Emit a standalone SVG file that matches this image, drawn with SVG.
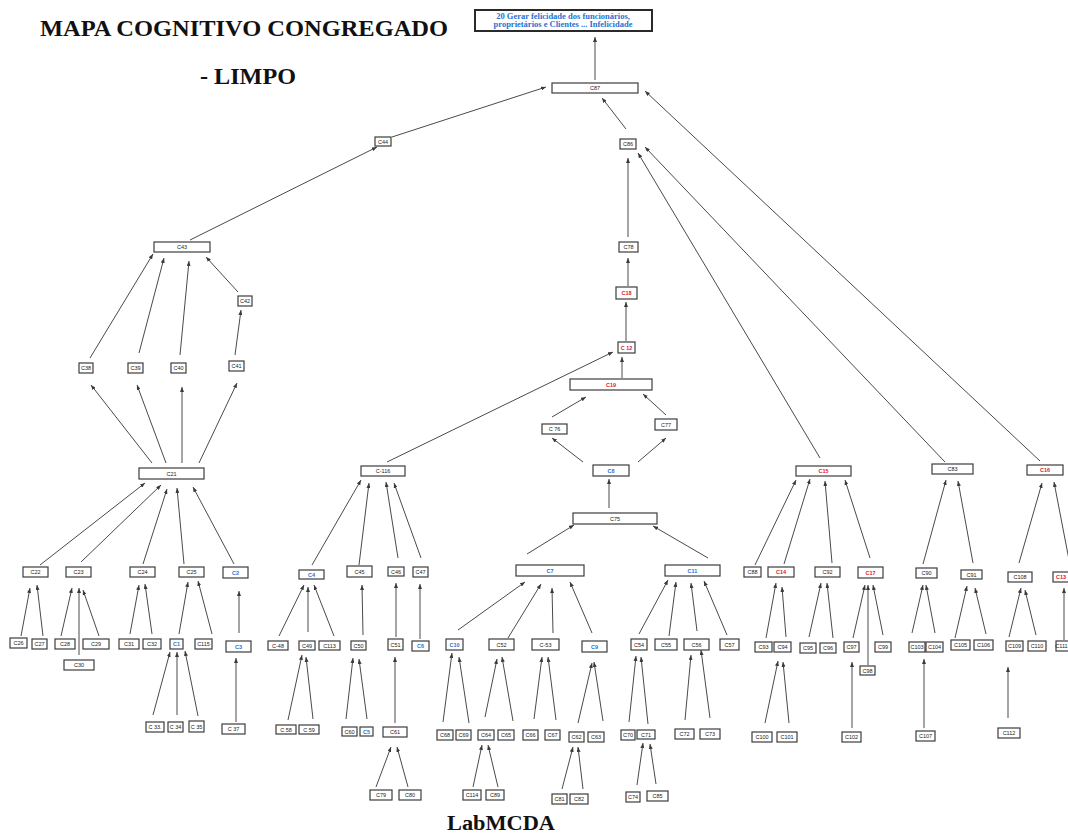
<svg xmlns="http://www.w3.org/2000/svg" width="1068" height="835" viewBox="0 0 1068 835">
<defs>
<marker id="ah" markerUnits="userSpaceOnUse" markerWidth="5" markerHeight="4" viewBox="0 0 10 8" refX="10" refY="4" orient="auto">
<path d="M0,0 L10,4 L0,8 Z" fill="#3a3a3a"/>
</marker>
</defs>
<style>
.bg{fill:#ffffff}
.h{font-family:"Liberation Serif","Times New Roman",serif;font-weight:bold;font-size:23px;fill:#111}
.foot{font-family:"Liberation Serif","Times New Roman",serif;font-weight:bold;font-size:20px;fill:#111}
.n rect{fill:#fff;stroke:#3c3c3c;stroke-width:1.2}
.n text{font-family:"Liberation Sans",Arial,sans-serif;font-size:5.5px;fill:#222;text-anchor:middle;dominant-baseline:central}
.n.b text{fill:#1f72d6;font-weight:bold}
.n.r text{fill:#e0202a;font-weight:bold}
.goal rect{fill:#fff;stroke:#2a2a2a;stroke-width:2}
.goal text{font-family:"Liberation Serif","Times New Roman",serif;font-size:8.5px;font-weight:bold;fill:#1f72d6;text-anchor:middle}
#edges line{stroke:#4a4a4a;stroke-width:1;marker-end:url(#ah)}
</style>
<rect class="bg" x="0" y="0" width="1068" height="835"/>

<text class="h" x="40" y="36" textLength="408" lengthAdjust="spacingAndGlyphs">MAPA COGNITIVO CONGREGADO</text>
<text class="h" x="200" y="84" textLength="96" lengthAdjust="spacingAndGlyphs">- LIMPO</text>
<text class="foot" x="447" y="830" textLength="108" lengthAdjust="spacingAndGlyphs">LabMCDA</text>

<g id="edges">
<line x1="595" y1="80" x2="595" y2="37"/>
<line x1="626" y1="129" x2="602" y2="98"/>
<line x1="392" y1="137" x2="546" y2="87"/>
<line x1="190" y1="240" x2="377" y2="147"/>
<line x1="1040" y1="461" x2="645" y2="91"/>
<line x1="820" y1="458" x2="638" y2="153"/>
<line x1="945" y1="462" x2="645" y2="147"/>
<line x1="628" y1="237" x2="628" y2="158"/>
<line x1="628" y1="286" x2="628" y2="258"/>
<line x1="626" y1="341" x2="626" y2="302"/>
<line x1="622" y1="378" x2="622" y2="357"/>
<line x1="387" y1="462" x2="613" y2="352"/>
<line x1="552" y1="417" x2="586" y2="397"/>
<line x1="666" y1="415" x2="643" y2="394"/>
<line x1="583" y1="462" x2="552" y2="438"/>
<line x1="638" y1="462" x2="666" y2="438"/>
<line x1="609" y1="508" x2="609" y2="479"/>
<line x1="90" y1="358" x2="153" y2="254"/>
<line x1="139" y1="353" x2="164" y2="258"/>
<line x1="180" y1="355" x2="189" y2="261"/>
<line x1="238" y1="292" x2="206" y2="257"/>
<line x1="235" y1="355" x2="241" y2="310"/>
<line x1="152" y1="463" x2="91" y2="385"/>
<line x1="166" y1="463" x2="137" y2="385"/>
<line x1="182" y1="463" x2="182" y2="387"/>
<line x1="199" y1="463" x2="237" y2="383"/>
<line x1="40" y1="565" x2="145" y2="483"/>
<line x1="81" y1="562" x2="161" y2="485"/>
<line x1="143" y1="564" x2="167" y2="489"/>
<line x1="184" y1="564" x2="177" y2="488"/>
<line x1="234" y1="564" x2="193" y2="487"/>
<line x1="21" y1="636" x2="30" y2="588"/>
<line x1="43" y1="636" x2="37" y2="585"/>
<line x1="61" y1="636" x2="72" y2="588"/>
<line x1="79" y1="655" x2="79" y2="588"/>
<line x1="99" y1="636" x2="83" y2="590"/>
<line x1="130" y1="634" x2="139" y2="585"/>
<line x1="152" y1="634" x2="145" y2="584"/>
<line x1="179" y1="634" x2="188" y2="582"/>
<line x1="212" y1="634" x2="198" y2="581"/>
<line x1="239" y1="633" x2="239" y2="591"/>
<line x1="153" y1="715" x2="170" y2="652"/>
<line x1="177" y1="715" x2="177" y2="652"/>
<line x1="198" y1="716" x2="185" y2="651"/>
<line x1="236" y1="722" x2="236" y2="658"/>
<line x1="312" y1="565" x2="361" y2="480"/>
<line x1="359" y1="565" x2="369" y2="483"/>
<line x1="398" y1="558" x2="386" y2="482"/>
<line x1="421" y1="558" x2="394" y2="483"/>
<line x1="279" y1="636" x2="304" y2="585"/>
<line x1="308" y1="632" x2="308" y2="587"/>
<line x1="334" y1="636" x2="314" y2="585"/>
<line x1="363" y1="635" x2="362" y2="585"/>
<line x1="396" y1="637" x2="396" y2="583"/>
<line x1="420" y1="639" x2="420" y2="584"/>
<line x1="288" y1="720" x2="302" y2="655"/>
<line x1="313" y1="719" x2="306" y2="657"/>
<line x1="346" y1="719" x2="353" y2="658"/>
<line x1="367" y1="719" x2="359" y2="659"/>
<line x1="395" y1="723" x2="395" y2="657"/>
<line x1="376" y1="787" x2="391" y2="747"/>
<line x1="408" y1="787" x2="397" y2="747"/>
<line x1="527" y1="554" x2="574" y2="525"/>
<line x1="708" y1="558" x2="653" y2="526"/>
<line x1="458" y1="630" x2="525" y2="582"/>
<line x1="508" y1="638" x2="541" y2="584"/>
<line x1="553" y1="633" x2="552" y2="588"/>
<line x1="592" y1="633" x2="570" y2="582"/>
<line x1="443" y1="722" x2="452" y2="653"/>
<line x1="469" y1="723" x2="459" y2="657"/>
<line x1="485" y1="717" x2="497" y2="659"/>
<line x1="513" y1="721" x2="502" y2="657"/>
<line x1="534" y1="719" x2="542" y2="657"/>
<line x1="556" y1="720" x2="548" y2="657"/>
<line x1="578" y1="723" x2="592" y2="663"/>
<line x1="603" y1="721" x2="594" y2="662"/>
<line x1="473" y1="787" x2="482" y2="745"/>
<line x1="498" y1="787" x2="488" y2="745"/>
<line x1="562" y1="789" x2="573" y2="747"/>
<line x1="583" y1="789" x2="578" y2="747"/>
<line x1="639" y1="634" x2="668" y2="580"/>
<line x1="669" y1="636" x2="676" y2="582"/>
<line x1="697" y1="631" x2="691" y2="583"/>
<line x1="727" y1="635" x2="704" y2="581"/>
<line x1="629" y1="722" x2="636" y2="656"/>
<line x1="648" y1="724" x2="641" y2="657"/>
<line x1="637" y1="785" x2="643" y2="743"/>
<line x1="656" y1="784" x2="650" y2="744"/>
<line x1="685" y1="720" x2="691" y2="655"/>
<line x1="710" y1="718" x2="701" y2="650"/>
<line x1="755" y1="565" x2="796" y2="480"/>
<line x1="784" y1="564" x2="810" y2="479"/>
<line x1="832" y1="563" x2="825" y2="481"/>
<line x1="870" y1="558" x2="845" y2="480"/>
<line x1="766" y1="638" x2="776" y2="583"/>
<line x1="786" y1="637" x2="782" y2="587"/>
<line x1="809" y1="637" x2="821" y2="583"/>
<line x1="833" y1="638" x2="827" y2="583"/>
<line x1="853" y1="638" x2="865" y2="585"/>
<line x1="868" y1="665" x2="868" y2="585"/>
<line x1="883" y1="635" x2="873" y2="585"/>
<line x1="765" y1="723" x2="778" y2="661"/>
<line x1="789" y1="723" x2="783" y2="662"/>
<line x1="852" y1="728" x2="852" y2="662"/>
<line x1="923" y1="564" x2="946" y2="480"/>
<line x1="973" y1="563" x2="958" y2="481"/>
<line x1="1019" y1="563" x2="1042" y2="483"/>
<line x1="1070" y1="565" x2="1054" y2="482"/>
<line x1="912" y1="633" x2="923" y2="585"/>
<line x1="935" y1="633" x2="926" y2="585"/>
<line x1="955" y1="638" x2="967" y2="586"/>
<line x1="986" y1="634" x2="975" y2="588"/>
<line x1="1009" y1="637" x2="1021" y2="588"/>
<line x1="1036" y1="635" x2="1025" y2="590"/>
<line x1="1064" y1="640" x2="1064" y2="588"/>
<line x1="924" y1="728" x2="924" y2="659"/>
<line x1="1008" y1="718" x2="1008" y2="667"/>
</g>

<g id="goal" class="goal">
<rect x="475" y="10" width="177" height="21"/>
<text x="563" y="18.5">20 Gerar felicidade dos funcionários,</text>
<text x="563" y="27">proprietários e Clientes ... Infelicidade</text>
</g>

<g id="C87" class="n"><rect x="552" y="83" width="86" height="10"/><text x="595" y="88">C87</text></g>
<g id="C44" class="n"><rect x="375" y="137" width="16" height="9"/><text x="383" y="141.5">C44</text></g>
<g id="C86" class="n"><rect x="620" y="139" width="16" height="10"/><text x="628" y="144">C86</text></g>
<g id="C43" class="n"><rect x="154" y="242" width="56" height="10"/><text x="182" y="247">C43</text></g>
<g id="C42" class="n"><rect x="238" y="296" width="14" height="10"/><text x="245" y="301">C42</text></g>
<g id="C38" class="n"><rect x="79" y="363" width="14" height="10"/><text x="86" y="368">C38</text></g>
<g id="C39" class="n"><rect x="128" y="363" width="15" height="10"/><text x="135.5" y="368">C39</text></g>
<g id="C40" class="n"><rect x="171" y="363" width="15" height="10"/><text x="178.5" y="368">C40</text></g>
<g id="C41" class="n"><rect x="229" y="361" width="15" height="10"/><text x="236.5" y="366">C41</text></g>
<g id="C21" class="n"><rect x="139" y="468" width="65" height="11"/><text x="171.5" y="473.5">C21</text></g>
<g id="C78" class="n"><rect x="619" y="242" width="19" height="10"/><text x="628.5" y="247">C78</text></g>
<g id="C18" class="n r"><rect x="616" y="287" width="21" height="12"/><text x="626.5" y="293">C18</text></g>
<g id="C12" class="n r"><rect x="618" y="342" width="17" height="11"/><text x="626.5" y="347.5">C 12</text></g>
<g id="C19" class="n r"><rect x="570" y="379" width="82" height="11"/><text x="611" y="384.5">C19</text></g>
<g id="C76" class="n"><rect x="542" y="424" width="25" height="10"/><text x="554.5" y="429">C 76</text></g>
<g id="C77" class="n"><rect x="655" y="419" width="22" height="11"/><text x="666" y="424.5">C77</text></g>
<g id="C8" class="n b"><rect x="593" y="465" width="36" height="11"/><text x="611" y="470.5">C8</text></g>
<g id="C75" class="n"><rect x="573" y="513" width="84" height="11"/><text x="615" y="518.5">C75</text></g>
<g id="C-116" class="n"><rect x="361" y="466" width="44" height="10"/><text x="383" y="471">C-116</text></g>
<g id="C15" class="n r"><rect x="796" y="466" width="55" height="10"/><text x="823.5" y="471">C15</text></g>
<g id="C83" class="n"><rect x="932" y="464" width="41" height="10"/><text x="952.5" y="469">C83</text></g>
<g id="C16" class="n r"><rect x="1027" y="465" width="36" height="10"/><text x="1045" y="470">C16</text></g>

<g id="C22" class="n"><rect x="23" y="567" width="25" height="10"/><text x="35.5" y="572">C22</text></g>
<g id="C23" class="n"><rect x="66" y="567" width="25" height="10"/><text x="78.5" y="572">C23</text></g>
<g id="C24" class="n"><rect x="130" y="567" width="25" height="10"/><text x="142.5" y="572">C24</text></g>
<g id="C25" class="n"><rect x="179" y="567" width="25" height="10"/><text x="191.5" y="572">C25</text></g>
<g id="C2" class="n b"><rect x="223" y="567" width="25" height="11"/><text x="235.5" y="572.5">C2</text></g>
<g id="C4" class="n b"><rect x="299" y="570" width="25" height="9"/><text x="311.5" y="574.5">C4</text></g>
<g id="C45" class="n"><rect x="347" y="566" width="25" height="11"/><text x="359.5" y="571.5">C45</text></g>
<g id="C46" class="n"><rect x="388" y="567" width="16" height="9"/><text x="396" y="571.5">C46</text></g>
<g id="C47" class="n"><rect x="413" y="567" width="15" height="10"/><text x="420.5" y="572">C47</text></g>
<g id="C7" class="n b"><rect x="516" y="565" width="68" height="11"/><text x="550" y="570.5">C7</text></g>
<g id="C11" class="n b"><rect x="665" y="565" width="55" height="11"/><text x="692.5" y="570.5">C11</text></g>
<g id="C88" class="n"><rect x="744" y="567" width="17" height="10"/><text x="752.5" y="572">C88</text></g>
<g id="C14" class="n r"><rect x="768" y="567" width="26" height="10"/><text x="781" y="572">C14</text></g>
<g id="C92" class="n"><rect x="815" y="567" width="25" height="10"/><text x="827.5" y="572">C92</text></g>
<g id="C17" class="n r"><rect x="858" y="567" width="25" height="11"/><text x="870.5" y="572.5">C17</text></g>
<g id="C90" class="n"><rect x="916" y="568" width="21" height="10"/><text x="926.5" y="573">C90</text></g>
<g id="C91" class="n"><rect x="961" y="570" width="21" height="9"/><text x="971.5" y="574.5">C91</text></g>
<g id="C108" class="n"><rect x="1008" y="572" width="24" height="10"/><text x="1020" y="577">C108</text></g>
<g id="C13" class="n r"><rect x="1053" y="572" width="24" height="10"/><text x="1061" y="577">C13</text></g>

<g id="C26" class="n"><rect x="10" y="638" width="17" height="10"/><text x="18.5" y="643">C26</text></g>
<g id="C27" class="n"><rect x="32" y="639" width="15" height="10"/><text x="39.5" y="644">C27</text></g>
<g id="C28" class="n"><rect x="55" y="639" width="20" height="10"/><text x="65" y="644">C28</text></g>
<g id="C29" class="n"><rect x="83" y="639" width="26" height="10"/><text x="96" y="644">C29</text></g>
<g id="C30" class="n"><rect x="64" y="660" width="30" height="10"/><text x="79" y="665">C30</text></g>
<g id="C31" class="n"><rect x="119" y="639" width="20" height="10"/><text x="129" y="644">C31</text></g>
<g id="C32" class="n"><rect x="143" y="639" width="18" height="10"/><text x="152" y="644">C32</text></g>
<g id="C1" class="n b"><rect x="170" y="639" width="13" height="10"/><text x="176.5" y="644">C1</text></g>
<g id="C115" class="n"><rect x="195" y="639" width="17" height="10"/><text x="203.5" y="644">C115</text></g>
<g id="C3" class="n b"><rect x="226" y="641" width="25" height="11"/><text x="238.5" y="646.5">C3</text></g>
<g id="C-48" class="n"><rect x="268" y="641" width="20" height="9"/><text x="278" y="645.5">C-48</text></g>
<g id="C49" class="n"><rect x="299" y="641" width="16" height="9"/><text x="307" y="645.5">C49</text></g>
<g id="C113" class="n"><rect x="319" y="641" width="21" height="9"/><text x="329.5" y="645.5">C113</text></g>
<g id="C50" class="n"><rect x="351" y="641" width="15" height="9"/><text x="358.5" y="645.5">C50</text></g>
<g id="C51" class="n"><rect x="388" y="639" width="15" height="11"/><text x="395.5" y="644.5">C51</text></g>
<g id="C6" class="n b"><rect x="412" y="641" width="17" height="10"/><text x="420.5" y="646">C6</text></g>
<g id="C10" class="n b"><rect x="446" y="639" width="17" height="11"/><text x="454.5" y="644.5">C10</text></g>
<g id="C52" class="n"><rect x="489" y="639" width="25" height="11"/><text x="501.5" y="644.5">C52</text></g>
<g id="C-53" class="n"><rect x="532" y="639" width="27" height="11"/><text x="545.5" y="644.5">C-53</text></g>
<g id="C9" class="n b"><rect x="582" y="641" width="25" height="11"/><text x="594.5" y="646.5">C9</text></g>
<g id="C54" class="n"><rect x="631" y="639" width="16" height="11"/><text x="639" y="644.5">C54</text></g>
<g id="C55" class="n"><rect x="655" y="639" width="22" height="11"/><text x="666" y="644.5">C55</text></g>
<g id="C56" class="n"><rect x="684" y="639" width="25" height="11"/><text x="696.5" y="644.5">C56</text></g>
<g id="C57" class="n"><rect x="720" y="639" width="19" height="11"/><text x="729.5" y="644.5">C57</text></g>
<g id="C93" class="n"><rect x="755" y="642" width="17" height="10"/><text x="763.5" y="647">C93</text></g>
<g id="C94" class="n"><rect x="774" y="642" width="17" height="10"/><text x="782.5" y="647">C94</text></g>
<g id="C95" class="n"><rect x="800" y="643" width="16" height="10"/><text x="808" y="648">C95</text></g>
<g id="C96" class="n"><rect x="820" y="643" width="16" height="10"/><text x="828" y="648">C96</text></g>
<g id="C97" class="n"><rect x="844" y="642" width="15" height="10"/><text x="851.5" y="647">C97</text></g>
<g id="C98" class="n"><rect x="860" y="666" width="15" height="9"/><text x="867.5" y="670.5">C98</text></g>
<g id="C99" class="n"><rect x="875" y="642" width="16" height="10"/><text x="883" y="647">C99</text></g>
<g id="C103" class="n"><rect x="909" y="642" width="16" height="10"/><text x="917" y="647">C103</text></g>
<g id="C104" class="n"><rect x="926" y="642" width="17" height="10"/><text x="934.5" y="647">C104</text></g>
<g id="C105" class="n"><rect x="951" y="640" width="19" height="10"/><text x="960.5" y="645">C105</text></g>
<g id="C106" class="n"><rect x="974" y="640" width="19" height="10"/><text x="983.5" y="645">C106</text></g>
<g id="C109" class="n"><rect x="1006" y="641" width="17" height="10"/><text x="1014.5" y="646">C109</text></g>
<g id="C110" class="n"><rect x="1028" y="641" width="18" height="10"/><text x="1037" y="646">C110</text></g>
<g id="C111" class="n"><rect x="1056" y="641" width="18" height="10"/><text x="1061.5" y="646">C111</text></g>

<g id="C33" class="n"><rect x="146" y="722" width="18" height="10"/><text x="155" y="727">C 33.</text></g>
<g id="C34" class="n"><rect x="168" y="722" width="15" height="10"/><text x="175.5" y="727">C 34</text></g>
<g id="C35" class="n"><rect x="189" y="721" width="15" height="11"/><text x="196.5" y="726.5">C 35</text></g>
<g id="C37" class="n"><rect x="222" y="724" width="23" height="10"/><text x="233.5" y="729">C 37</text></g>
<g id="C58" class="n"><rect x="276" y="725" width="20" height="9"/><text x="286" y="729.5">C 58</text></g>
<g id="C59" class="n"><rect x="299" y="725" width="20" height="9"/><text x="309" y="729.5">C 59</text></g>
<g id="C60" class="n"><rect x="342" y="727" width="15" height="9"/><text x="349.5" y="731.5">C60</text></g>
<g id="C5" class="n b"><rect x="360" y="727" width="13" height="9"/><text x="366.5" y="731.5">C5</text></g>
<g id="C61" class="n"><rect x="383" y="727" width="24" height="10"/><text x="395" y="732">C61</text></g>
<g id="C68" class="n"><rect x="437" y="730" width="16" height="10"/><text x="445" y="735">C68</text></g>
<g id="C69" class="n"><rect x="456" y="730" width="15" height="10"/><text x="463.5" y="735">C69</text></g>
<g id="C64" class="n"><rect x="478" y="730" width="16" height="10"/><text x="486" y="735">C64</text></g>
<g id="C65" class="n"><rect x="498" y="730" width="16" height="10"/><text x="506" y="735">C65</text></g>
<g id="C66" class="n"><rect x="523" y="730" width="15" height="10"/><text x="530.5" y="735">C66</text></g>
<g id="C67" class="n"><rect x="545" y="730" width="15" height="10"/><text x="552.5" y="735">C67</text></g>
<g id="C62" class="n"><rect x="569" y="732" width="15" height="10"/><text x="576.5" y="737">C62</text></g>
<g id="C63" class="n"><rect x="588" y="732" width="16" height="10"/><text x="596" y="737">C63</text></g>
<g id="C70" class="n"><rect x="621" y="730" width="14" height="10"/><text x="628" y="735">C70</text></g>
<g id="C71" class="n"><rect x="637" y="730" width="18" height="9"/><text x="646" y="734.5">C71</text></g>
<g id="C72" class="n"><rect x="675" y="729" width="19" height="10"/><text x="684.5" y="734">C72</text></g>
<g id="C73" class="n"><rect x="700" y="729" width="20" height="10"/><text x="710" y="734">C73</text></g>
<g id="C100" class="n"><rect x="752" y="732" width="20" height="10"/><text x="762" y="737">C100</text></g>
<g id="C101" class="n"><rect x="777" y="732" width="20" height="10"/><text x="787" y="737">C101</text></g>
<g id="C102" class="n"><rect x="842" y="732" width="19" height="10"/><text x="851.5" y="737">C102</text></g>
<g id="C107" class="n"><rect x="916" y="731" width="19" height="10"/><text x="925.5" y="736">C107</text></g>
<g id="C112" class="n"><rect x="998" y="728" width="22" height="10"/><text x="1009" y="733">C112</text></g>

<g id="C79" class="n"><rect x="370" y="790" width="22" height="10"/><text x="381" y="795">C79</text></g>
<g id="C80" class="n"><rect x="399" y="790" width="22" height="10"/><text x="410" y="795">C80</text></g>
<g id="C114" class="n"><rect x="463" y="790" width="18" height="10"/><text x="472" y="795">C114</text></g>
<g id="C89" class="n"><rect x="486" y="790" width="18" height="10"/><text x="495" y="795">C89</text></g>
<g id="C81" class="n"><rect x="552" y="794" width="15" height="10"/><text x="559.5" y="799">C81</text></g>
<g id="C82" class="n"><rect x="570" y="794" width="18" height="10"/><text x="579" y="799">C82</text></g>
<g id="C74" class="n"><rect x="626" y="792" width="14" height="10"/><text x="633" y="797">C74</text></g>
<g id="C85" class="n"><rect x="647" y="791" width="21" height="10"/><text x="657.5" y="796">C85</text></g>
</svg>
